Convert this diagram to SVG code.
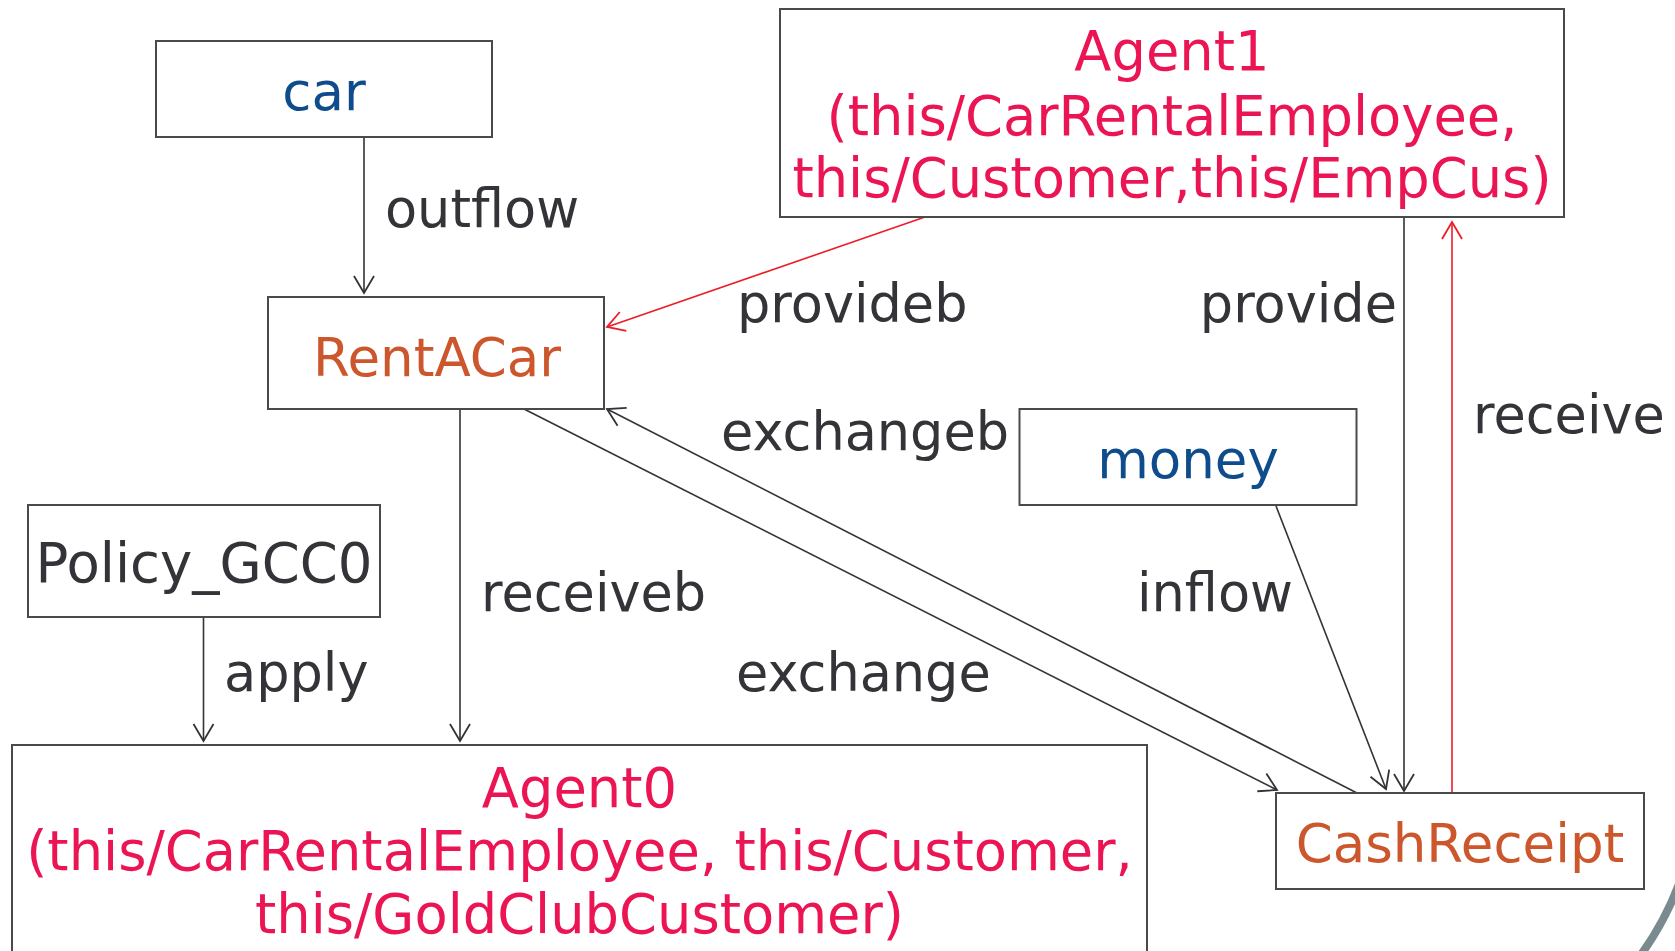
<svg xmlns="http://www.w3.org/2000/svg" width="1675" height="951" viewBox="0 0 1675 951">
  <style>
    .box { fill: #ffffff; stroke: #4a4a4d; stroke-width: 2; }
    .t { font-family: "DejaVu Sans", Verdana, sans-serif; font-size: 53px; text-anchor: middle; }
    .agent { fill: #ec1554; font-size: 54.3px; }
    .res { fill: #0f4c8c; }
    .proc { fill: #cd572d; }
    .plain { fill: #333338; font-size: 54.5px; }
    .lbl { font-family: "DejaVu Sans", Verdana, sans-serif; font-size: 52.5px; fill: #333338; }
    .edge { fill: none; stroke: #333338; stroke-width: 1.6; }
    .edge-red { fill: none; stroke: #ee1c25; stroke-width: 1.6; }
  </style>
  <defs>
    <marker id="open-dark" markerUnits="userSpaceOnUse" viewBox="-19 -12 22 24" markerWidth="22" markerHeight="24" refX="0" refY="0" orient="auto">
      <path d="M-17,-10 L0,0 L-17,10" fill="none" stroke="#333338" stroke-width="1.8"/>
    </marker>
    <marker id="open-red" markerUnits="userSpaceOnUse" viewBox="-19 -12 22 24" markerWidth="22" markerHeight="24" refX="0" refY="0" orient="auto">
      <path d="M-17,-10 L0,0 L-17,10" fill="none" stroke="#ee1c25" stroke-width="1.8"/>
    </marker>
  </defs>

  <rect width="1675" height="951" fill="#ffffff"/>

  <!-- decorative arc at the lower right corner -->
  <path d="M1679,884 A300,300 0 0,1 1640,956" fill="none" stroke="#7a8b90" stroke-width="8"/>

  <!-- connectors -->
  <g id="connectors">
    <line class="edge" x1="364" y1="137" x2="364" y2="293" marker-end="url(#open-dark)"/>
    <line class="edge-red" x1="925" y1="217" x2="607" y2="327" marker-end="url(#open-red)"/>
    <line class="edge" x1="1404" y1="217" x2="1404" y2="791" marker-end="url(#open-dark)"/>
    <line class="edge-red" x1="1452" y1="794" x2="1452" y2="222" marker-end="url(#open-red)"/>
    <line class="edge" x1="460" y1="409" x2="460" y2="741" marker-end="url(#open-dark)"/>
    <line class="edge" x1="203.5" y1="617" x2="203.5" y2="741" marker-end="url(#open-dark)"/>
    <line class="edge" x1="1276" y1="506" x2="1386" y2="789" marker-end="url(#open-dark)"/>
    <line class="edge" x1="524" y1="409" x2="1277" y2="790" marker-end="url(#open-dark)"/>
    <line class="edge" x1="1357" y1="793" x2="607" y2="409" marker-end="url(#open-dark)"/>

    <text class="lbl" x="385" y="227">outflow</text>
    <text class="lbl" x="737" y="322">provideb</text>
    <text class="lbl" x="1397" y="322" text-anchor="end">provide</text>
    <text class="lbl" x="1473" y="433">receive</text>
    <text class="lbl" x="721" y="450">exchangeb</text>
    <text class="lbl" x="1137" y="611">inflow</text>
    <text class="lbl" x="481" y="611">receiveb</text>
    <text class="lbl" x="224" y="691">apply</text>
    <text class="lbl" x="736" y="691">exchange</text>
  </g>

  <g id="car">
    <rect class="box" x="156" y="41" width="336" height="96"/>
    <text class="t res" x="324" y="110">car</text>
  </g>

  <g id="agent1">
    <rect class="box" x="780" y="9" width="784" height="208"/>
    <text class="t agent" x="1172" y="70">Agent1</text>
    <text class="t agent" x="1172" y="135">(this/CarRentalEmployee,</text>
    <text class="t agent" x="1172" y="197">this/Customer,this/EmpCus)</text>
  </g>

  <g id="rentacar">
    <rect class="box" x="268" y="297" width="336" height="112"/>
    <text class="t proc" x="437" y="376">RentACar</text>
  </g>

  <g id="money">
    <rect class="box" x="1019.5" y="409" width="337" height="96"/>
    <text class="t res" x="1188" y="478">money</text>
  </g>

  <g id="policy-gcc0">
    <rect class="box" x="28" y="505" width="352" height="112"/>
    <text class="t plain" x="204" y="582">Policy_GCC0</text>
  </g>

  <g id="agent0">
    <rect class="box" x="12" y="745" width="1135" height="220"/>
    <text class="t agent" x="579.5" y="807">Agent0</text>
    <text class="t agent" x="579.5" y="870">(this/CarRentalEmployee, this/Customer,</text>
    <text class="t agent" x="579.5" y="933">this/GoldClubCustomer)</text>
  </g>

  <g id="cashreceipt">
    <rect class="box" x="1276" y="793" width="368" height="96"/>
    <text class="t proc" x="1460" y="862">CashReceipt</text>
  </g>
</svg>
